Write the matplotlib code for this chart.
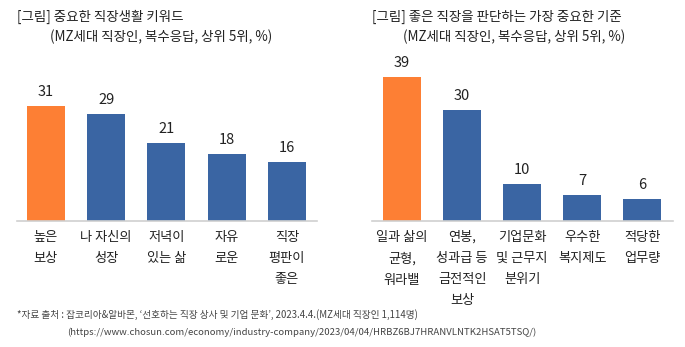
import matplotlib
matplotlib.use("Agg")
import matplotlib.pyplot as plt

plt.rcParams['font.family'] = ['Noto Sans CJK KR', 'DejaVu Sans']

left_title = "[그림] 중요한 직장생활 키워드"
right_title = "[그림] 좋은 직장을 판단하는 가장 중요한 기준"
subtitle = "(MZ세대 직장인, 복수응답, 상위 5위, %)"

left_cats = ["높은\n보상", "나 자신의\n성장", "저녁이\n있는 삶", "자유\n로운", "직장\n평판이\n좋은"]
left_vals = [31, 29, 21, 18, 16]

right_cats = ["일과 삶의\n균형,\n워라밸", "연봉,\n성과급 등\n금전적인\n보상", "기업문화\n및 근무지\n분위기",
              "우수한\n복지제도", "적당한\n업무량"]
right_vals = [39, 30, 10, 7, 6]

footnote1 = "*자료 출처 : 잡코리아&알바몬, ‘선호하는 직장 상사 및 기업 문화’, 2023.4.4.(MZ세대 직장인 1,114명)"
footnote2 = "(https://www.chosun.com/economy/industry-company/2023/04/04/HRBZ6BJ7HRANVLNTK2HSAT5TSQ/)"

ORANGE = "#FD7F34"
BLUE = "#3A65A3"

W, H = 685, 347
fig = plt.figure(figsize=(W / 100, H / 100), dpi=100)

base_y = 221
px_per_unit = 3.7
ymax = 45
ax_h = ymax * px_per_unit


def make_axes(x0, x1):
    return fig.add_axes([x0 / W, 1 - base_y / H, (x1 - x0) / W, ax_h / H])


def draw(ax, cats, vals, xlim):
    colors = [ORANGE] + [BLUE] * (len(vals) - 1)
    xs = list(range(len(vals)))
    bars = ax.bar(xs, vals, width=0.63, color=colors)
    for b, v in zip(bars, vals):
        ax.annotate(str(v), (b.get_x() + b.get_width() / 2, v), xytext=(0, 5),
                    textcoords="offset points", ha="center", va="bottom",
                    fontsize=10.5, color="#222222")
    ax.set_xlim(*xlim)
    ax.set_ylim(0, ymax)
    ax.set_xticks(xs)
    ax.set_xticklabels(cats, fontsize=9.5, linespacing=1.8, color="#222222")
    ax.tick_params(axis='x', length=0, pad=7)
    ax.set_yticks([])
    for s in ["left", "right", "top"]:
        ax.spines[s].set_visible(False)
    ax.spines["bottom"].set_color("#d0d0d0")
    ax.spines["bottom"].set_linewidth(1.2)


axL = make_axes(17, 317)
draw(axL, left_cats, left_vals, (-0.48, 4.5))
axR = make_axes(372, 673)
draw(axR, right_cats, right_vals, (-0.5, 4.51))

tkw = dict(fontsize=9.7, va="center", ha="left", color="#222222")
fig.text(17 / W, 1 - 17 / H, left_title, **tkw)
fig.text(50 / W, 1 - 37 / H, subtitle, **tkw)
fig.text(372 / W, 1 - 17 / H, right_title, **tkw)
fig.text(403 / W, 1 - 37 / H, subtitle, **tkw)

fig.text(17 / W, 1 - 315 / H, footnote1, fontsize=6.95, va="center", ha="left", color="#444444")
fig.text(67 / W, 1 - 332 / H, footnote2, fontsize=6.9, va="center", ha="left", color="#444444")

fig.savefig("out.png", dpi=100)
